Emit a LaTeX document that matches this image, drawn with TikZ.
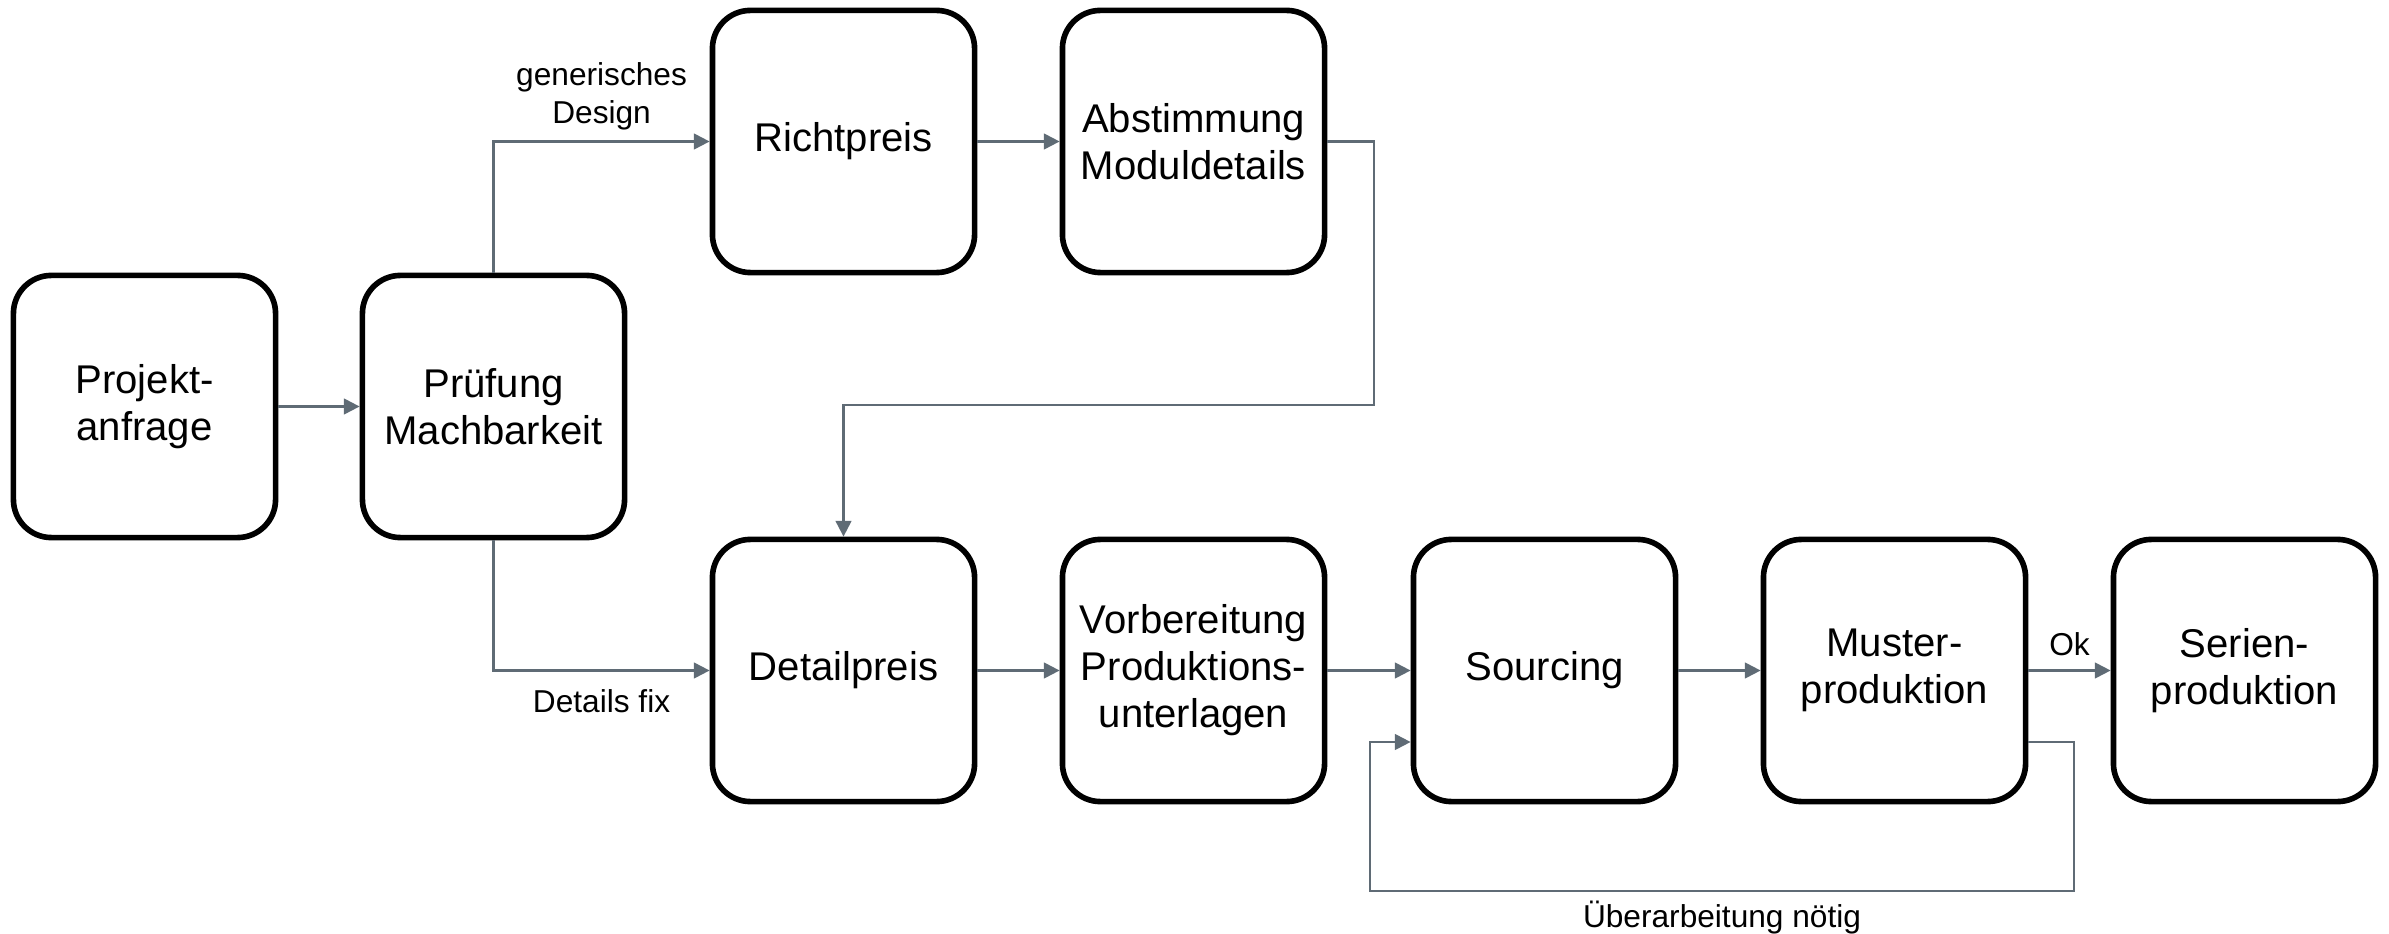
\documentclass[tikz,border=0pt]{standalone}
\usepackage{fontspec}
\setmainfont{Liberation Sans}
\usetikzlibrary{arrows.meta,calc}
\definecolor{conncol}{HTML}{5F6B75}
\begin{document}
\begin{tikzpicture}[x=0.01cm,y=-0.01cm,
 box/.style={draw=black, line width=1.6pt, rounded corners=0.38cm, minimum width=2.62cm, minimum height=2.62cm, align=center, font=\fontsize{11.4}{13.4}\selectfont, inner sep=0pt},
 conn/.style={draw=conncol, line width=0.6pt, -{Triangle[length=4.5pt,width=4.5pt]}},
 lbl/.style={font=\fontsize{9}{10.8}\selectfont, align=center, inner sep=0pt}]
\useasboundingbox (0,0) rectangle (2389,934);
\node[box] (pa) at (144.5,406.5) {Projekt-\\anfrage};
\node[box] (pm) at (493.5,406.5) {Prüfung\\Machbarkeit};
\node[box] (rp) at (843.5,141.5) {Richtpreis};
\node[box] (am) at (1193.5,141.5) {Abstimmung\\Moduldetails};
\node[box] (dp) at (843.5,670.5) {Detailpreis};
\node[box] (vp) at (1193.5,670.5) {Vorbereitung\\Produktions-\\unterlagen};
\node[box] (so) at (1544.5,670.5) {Sourcing};
\node[box] (mp) at (1894.5,670.5) {Muster-\\produktion};
\node[box] (sp) at (2244.5,670.5) {Serien-\\produktion};
\coordinate (c1) at (1374,405);
\coordinate (f1) at (2074,891);
\coordinate (f2) at (1370,891);
\draw[conn] (pa) -- (pm);
\draw[conn] (pm.north) |- (rp.west) node[lbl, pos=0.75, above=3pt] (l1) {generisches\\Design};
\draw[conn] (pm.south) |- (dp.west) node[lbl, pos=0.75, below=5pt] (l2) {Details fix};
\draw[conn] (rp) -- (am);
\draw[conn] (am.east) -| (c1) -| (dp.north);
\draw[conn] (dp) -- (vp);
\draw[conn] (vp) -- (so);
\draw[conn] (so) -- (mp);
\draw[conn] (mp) -- (sp) node[lbl, midway, above=4pt] (l3) {Ok};
\draw[conn] ($(mp.east)+(0,71.5)$) -| (f1) -- (f2) node[lbl, midway, below=2.5pt] (l4) {Überarbeitung nötig} |- ($(so.west)+(0,71.5)$);
\end{tikzpicture}
\end{document}
